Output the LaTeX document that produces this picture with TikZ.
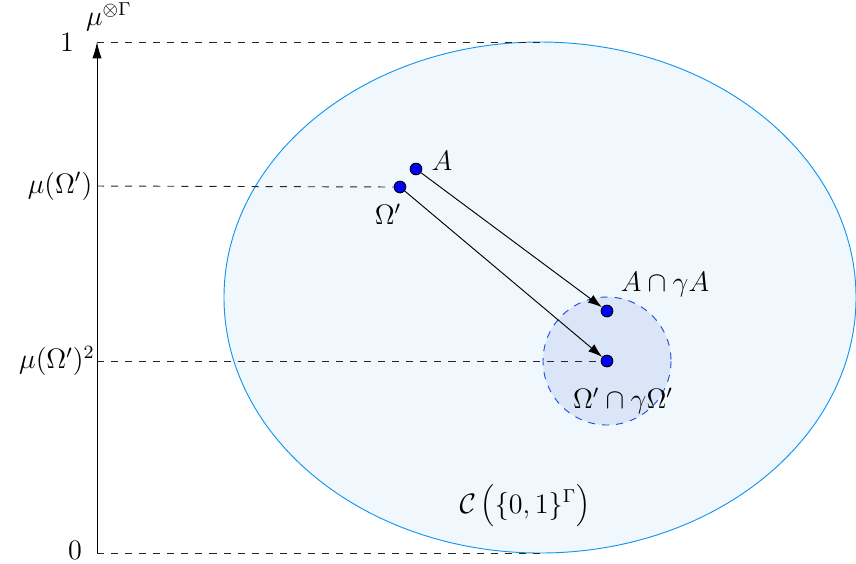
\documentclass[tikz,border=0pt]{standalone}
\usetikzlibrary{arrows.meta}
\definecolor{ellfill}{RGB}{240,248,253}
\definecolor{elldraw}{RGB}{20,150,240}
\definecolor{cfill}{RGB}{218,230,247}
\definecolor{cdraw}{RGB}{30,80,220}
\tikzset{
  lbl/.style={font=\large},
  dot/.style={circle,draw=black,fill=blue,inner sep=0pt,minimum size=5pt},
  guide/.style={dashed,draw=black!85},
  mapto/.style={-{Latex[length=6pt,width=4pt]},thin}
}
\begin{document}
\begin{tikzpicture}[x=0.015cm,y=-0.015cm]
\path[use as bounding box] (0,0) rectangle (856,563);
% ellipse
\draw[elldraw,fill=ellfill] (540,297.5) ellipse [x radius=316, y radius=255.5];
% small circle
\draw[cdraw,dashed,fill=cfill] (607,361) circle [radius=64];
% axis points
\coordinate (o) at (97,553);
\coordinate (t) at (97,42);
\coordinate (m1) at (97,186);
\coordinate (m2) at (97,361);
\coordinate (te) at (545,42);
\coordinate (be) at (545,553);
% dots
\node[dot] (A) at (416,169) {};
\node[dot] (O) at (400,187) {};
\node[dot] (AA) at (607,311) {};
\node[dot] (OO) at (607,361) {};
% guides
\draw[guide] (t) -- (te);
\draw[guide] (o) -- (be);
\draw[guide] (m1) -- (O.west);
\draw[guide] (m2) -- (OO.west);
% axis
\draw[-{Latex[length=7pt,width=4pt]}] (o) -- (t);
% arrows
\draw[mapto] (A) -- (AA);
\draw[mapto] (O) -- (OO);
% labels
\node[lbl] (l1) at (67,42) {$1$};
\node[lbl] (lmu) at (109,17) {$\mu^{\otimes\Gamma}$};
\node[lbl] (l0) at (75,550) {$0$};
\node[lbl] (lm1) at (60,186) {$\mu(\Omega')$};
\node[lbl] (lm2) at (57,361) {$\mu(\Omega')^2$};
\node[lbl] (lA) at (442,161) {$A$};
\node[lbl] (lO) at (388,214) {$\Omega'$};
\node[lbl] (lAA) at (665,285) {$A\cap\gamma A$};
\node[lbl] (lOO) at (623,401) {$\Omega'\cap\gamma\Omega'$};
\node[lbl] (lC) at (525,506) {$\mathcal{C}\left(\{0,1\}^{\Gamma}\right)$};
\end{tikzpicture}
\end{document}
